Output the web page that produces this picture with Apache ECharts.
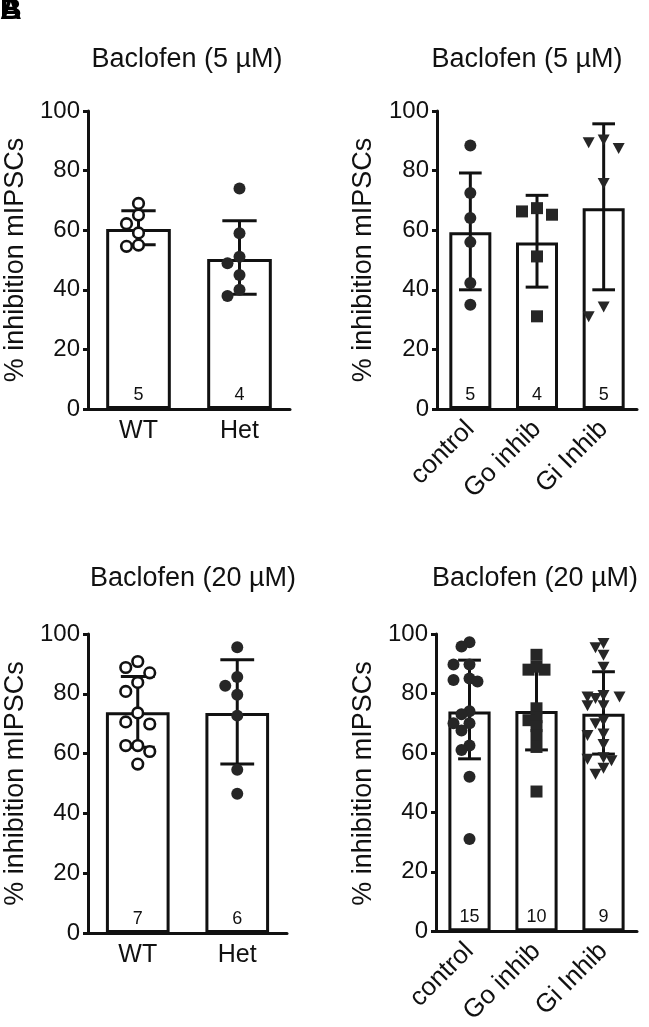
<!DOCTYPE html>
<html><head><meta charset="utf-8">
<script src="https://cdn.jsdelivr.net/npm/echarts@6/dist/echarts.min.js"></script>
<style>html,body{margin:0;padding:0;background:#fff}#c{width:649px;height:1027px}</style>
</head><body><div id="c"></div>
<script>
// ---------- data ----------
const titleTop = 'Baclofen (5 µM)';
const titleBottom = 'Baclofen (20 µM)';
const yName = '% inhibition mIPSCs';
const yTicks = [0, 20, 40, 60, 80, 100];
const panelLetters = ['B', 'A'];

const catsGeno = ['WT', 'Het'];
const catsDrug = ['control', 'Go inhib', 'Gi Inhib'];

// Panel A (5 µM, genotype)
const meanA = [60.4, 50.3];
const errLoA = [55.1, 38.5];
const errHiA = [66.5, 63.2];
const nA = [5, 4];
const ptsA_WT = [69.0, 65.1, 62.2, 59.1, 54.6, 55.0];
const ptsA_Het = [74.0, 59.0, 51.1, 48.9, 45.0, 37.9, 40.0];

// Panel B (5 µM, inhibitors)
const meanB = [59.3, 55.9, 67.4];
const errLoB = [40.0, 40.9, 40.0];
const errHiB = [79.2, 71.7, 95.7];
const nB = [5, 4, 5];
const ptsB_control = [88.4, 72.5, 64.1, 56.0, 42.3, 35.0];
const ptsB_Go = [67.4, 66.3, 65.2, 51.2, 31.1];
const ptsB_Gi = [90.4, 89.5, 87.6, 75.8, 31.1, 34.4];

// Panel C (20 µM, genotype)
const meanC = [73.8, 73.6];
const errLoC = [62.1, 56.5];
const errHiC = [85.8, 91.4];
const nC = [7, 6];
const ptsC_WT = [90.8, 88.8, 87.0, 83.8, 80.8, 73.6, 70.6, 69.9, 62.7, 62.7, 60.7, 56.5];
const ptsC_Het = [95.6, 85.6, 82.7, 79.7, 72.7, 54.6, 46.6];

// Panel D (20 µM, inhibitors)
const meanD = [73.9, 74.1, 73.2];
const errLoD = [58.0, 61.0, 59.6];
const errHiD = [91.2, 88.3, 87.3];
const nD = [15, 10, 9];
const ptsD_control = [97.2, 95.8, 89.7, 89.7, 85.0, 84.5, 84.0, 74.0, 73.0, 70.0, 70.0, 67.5, 62.5, 61.0, 52.0, 31.0];
const ptsD_Go = [93.0, 89.0, 88.0, 88.0, 75.0, 72.0, 71.0, 69.0, 66.0, 62.0, 47.0];
const ptsD_Gi = [97.0, 95.5, 93.0, 89.0, 79.5, 79.0, 79.0, 78.5, 76.0, 76.0, 71.0, 70.0, 66.5, 66.0, 63.0, 58.5, 58.0, 57.5, 55.0, 53.0];

// ---------- layout / style ----------
const FONT = 'Liberation Sans, Arial, Helvetica, sans-serif';
const INK = '#111';
const DOT = '#262626';

const panels = [
  { grid: {left: 88, top: 111, width: 202, height: 298}, cats: catsGeno, mean: meanA, lo: errLoA, hi: errHiA, n: nA,
    groups: [[ptsA_WT, 'open'], [ptsA_Het, 'circle']], rotate: 0, barW: '64%', step: 12, d: 11.5, maxOff: 24,
    title: titleTop, tx: 187, ty: 60, yx: 16 },
  { grid: {left: 437, top: 111, width: 200, height: 298}, cats: catsDrug, mean: meanB, lo: errLoB, hi: errHiB, n: nB,
    groups: [[ptsB_control, 'circle'], [ptsB_Go, 'square'], [ptsB_Gi, 'tri']], rotate: 45, barW: '63%', step: 15, d: 11.5, maxOff: 16,
    title: titleTop, tx: 527, ty: 60, yx: 364 },
  { grid: {left: 88, top: 634, width: 199, height: 299}, cats: catsGeno, mean: meanC, lo: errLoC, hi: errHiC, n: nC,
    groups: [[ptsC_WT, 'open'], [ptsC_Het, 'circle']], rotate: 0, barW: '64%', step: 12, d: 11.5, maxOff: 24,
    title: titleBottom, tx: 193, ty: 579, yx: 16 },
  { grid: {left: 436, top: 634, width: 201, height: 299}, cats: catsDrug, mean: meanD, lo: errLoD, hi: errHiD, n: nD,
    groups: [[ptsD_control, 'circle'], [ptsD_Go, 'square'], [ptsD_Gi, 'tri']], rotate: 45, barW: '63%', step: 8, d: 8.5, maxOff: 17,
    title: titleBottom, tx: 535, ty: 579, yx: 364 }
];

// greedy beeswarm: horizontal pixel offsets so markers overlap as little as possible
function swarm(vals, pxPerUnit, d, step, maxOff) {
  const idx = vals.map((v, i) => i).sort((a, b) => vals[b] - vals[a]);
  const placed = [];
  const off = new Array(vals.length).fill(0);
  for (const i of idx) {
    const y = vals[i] * pxPerUnit;
    let best = 0, bestGap = -1;
    for (let k = 0; k < 40; k++) {
      const m = Math.ceil(k / 2);
      const cand = k === 0 ? 0 : (k % 2 ? -m : m) * step;
      if (Math.abs(cand) > maxOff) break;
      const gap = placed.length ? Math.min(...placed.map(p => Math.hypot(p.x - cand, p.y - y))) : Infinity;
      if (gap >= d) { best = cand; bestGap = gap; break; }
      if (gap > bestGap) { best = cand; bestGap = gap; }
    }
    off[i] = best; placed.push({x: best, y});
  }
  return off;
}

function errRender(params, api) {
  const x = api.value(0);
  const pHi = api.coord([x, api.value(2)]);
  const pLo = api.coord([x, api.value(1)]);
  const band = api.size([1, 0])[0];
  const hw = band * 0.17;
  const st = {stroke: INK, lineWidth: 3};
  return {type: 'group', children: [
    {type: 'line', shape: {x1: pHi[0], y1: pHi[1], x2: pLo[0], y2: pLo[1]}, style: st},
    {type: 'line', shape: {x1: pHi[0] - hw, y1: pHi[1], x2: pHi[0] + hw, y2: pHi[1]}, style: st},
    {type: 'line', shape: {x1: pLo[0] - hw, y1: pLo[1], x2: pLo[0] + hw, y2: pLo[1]}, style: st}
  ]};
}

function pointRender(kind) {
  return function (params, api) {
    const p = api.coord([api.value(0), api.value(1)]);
    const x = p[0] + api.value(2), y = p[1];
    if (kind === 'open') return {type: 'circle', shape: {cx: x, cy: y, r: 5.3}, style: {fill: '#fff', stroke: INK, lineWidth: 2.6}};
    if (kind === 'circle') return {type: 'circle', shape: {cx: x, cy: y, r: 6}, style: {fill: DOT}};
    if (kind === 'square') return {type: 'rect', shape: {x: x - 6, y: y - 6, width: 12, height: 12}, style: {fill: DOT}};
    return {type: 'polygon', shape: {points: [[x - 6, y - 5], [x + 6, y - 5], [x, y + 6]]}, style: {fill: DOT}};
  };
}

const grids = [], xAxes = [], yAxes = [], series = [], graphics = [];
panels.forEach((P, gi) => {
  grids.push(P.grid);
  xAxes.push({
    type: 'category', gridIndex: gi, data: P.cats,
    axisLine: {lineStyle: {color: INK, width: 3}},
    axisTick: {alignWithLabel: true, length: 5, lineStyle: {color: INK, width: 3}},
    axisLabel: {color: INK, fontSize: P.rotate ? 26 : 25, fontFamily: FONT, margin: P.rotate ? 16 : 10,
      rotate: P.rotate, interval: 0}
  });
  yAxes.push({
    type: 'value', gridIndex: gi, min: yTicks[0], max: yTicks[yTicks.length - 1], interval: yTicks[1] - yTicks[0],
    splitLine: {show: false},
    axisLine: {show: true, lineStyle: {color: INK, width: 3}},
    axisTick: {show: true, length: 5, lineStyle: {color: INK, width: 3}},
    axisLabel: {color: INK, fontSize: 24, fontFamily: FONT, margin: 8}
  });
  const nArr = P.n;
  series.push({
    type: 'bar', xAxisIndex: gi, yAxisIndex: gi, data: P.mean, barWidth: P.barW, z: 1,
    itemStyle: {color: '#fff', borderColor: INK, borderWidth: 3},
    label: {show: true, position: 'insideBottom', distance: 5, color: INK, fontSize: 18, fontFamily: FONT,
      formatter: p => String(nArr[p.dataIndex])},
    silent: true
  });
  series.push({
    type: 'custom', xAxisIndex: gi, yAxisIndex: gi, z: 3, renderItem: errRender,
    data: P.cats.map((c, i) => [i, P.lo[i], P.hi[i]])
  });
  const ppu = P.grid.height / 100;
  P.groups.forEach((g, ci) => {
    const vals = g[0];
    const offs = swarm(vals, ppu, P.d, P.step, P.maxOff);
    series.push({
      type: 'custom', xAxisIndex: gi, yAxisIndex: gi, z: 4, renderItem: pointRender(g[1]),
      data: vals.map((v, i) => [ci, v, offs[i]])
    });
  });
  graphics.push({type: 'text', x: P.tx, y: P.ty,
    style: {text: P.title, fontSize: 27, fontFamily: FONT, fill: INK, align: 'center', verticalAlign: 'middle'}});
  graphics.push({type: 'text', x: P.yx, y: P.grid.top + P.grid.height / 2, rotation: Math.PI / 2,
    style: {text: yName, fontSize: 27, fontFamily: FONT, fill: INK, align: 'center', verticalAlign: 'middle'}});
});
panelLetters.forEach(L => {
  graphics.push({type: 'text', left: 0, top: -4, z: 10,
    style: {text: L, fontSize: 30, fontWeight: 'bold', fontFamily: FONT, fill: '#000'}});
});

const chart = echarts.init(document.getElementById('c'), null, {renderer: 'canvas'});
chart.setOption({
  backgroundColor: '#fff',
  animation: false,
  grid: grids, xAxis: xAxes, yAxis: yAxes, series: series, graphic: graphics
});
</script>
</body></html>
